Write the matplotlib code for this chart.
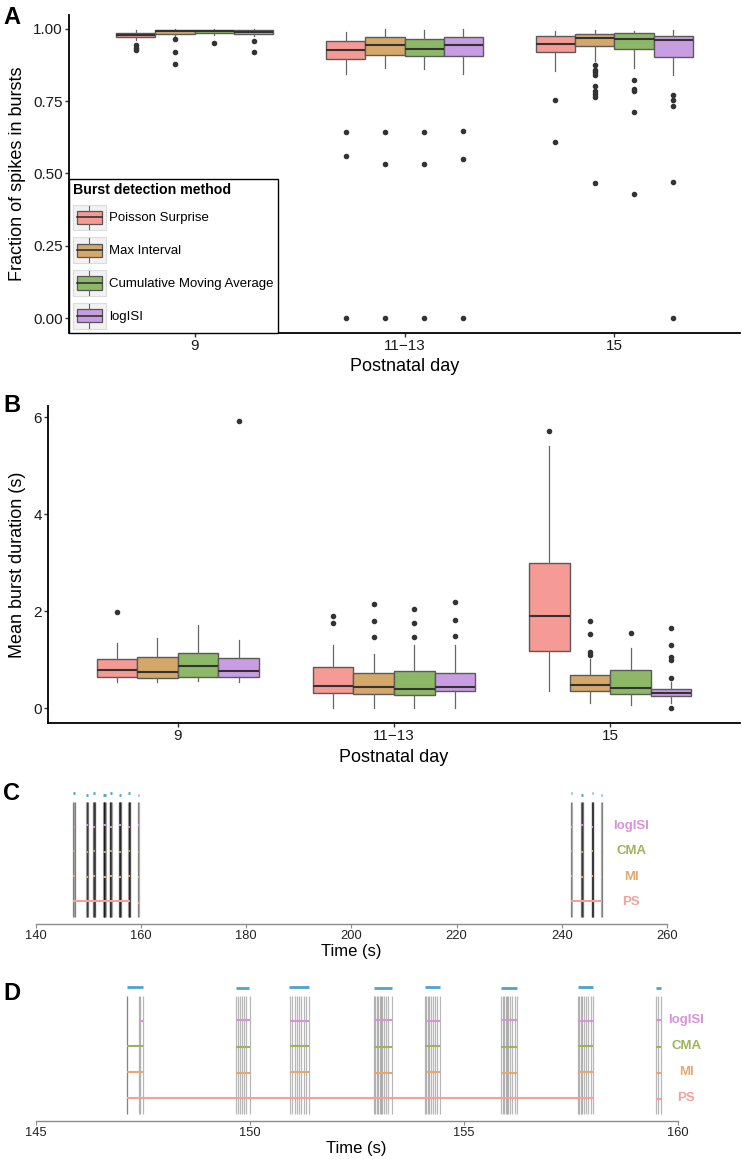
import matplotlib
matplotlib.use("Agg")
import matplotlib.pyplot as plt
from matplotlib.patches import Rectangle, Patch
from matplotlib.lines import Line2D
from matplotlib.legend_handler import HandlerBase

plt.rcParams['font.family'] = ['Liberation Sans', 'DejaVu Sans']

# ---------------- data ----------------
methods = ['Poisson Surprise', 'Max Interval', 'Cumulative Moving Average', 'logISI']
short_names = ['PS', 'MI', 'CMA', 'logISI']
days = ['9', '11\u221213', '15']
box_colors = ['#F59A94', '#D4A86B', '#8DB867', '#C99DE2']
text_colors = ['#F4A09C', '#E6A870', '#9DB35C', '#D892DA']
ref_color = '#4DA3CC'

# panel A : fraction of spikes in bursts  [day][method]
frac_q1 = [[.971, .984, .985, .984], [.896, .910, .905, .905], [.919, .941, .932, .902]]
frac_med = [[.979, .992, .993, .991], [.928, .946, .931, .946], [.948, .969, .965, .962]]
frac_q3 = [[.986, .997, .998, .997], [.960, .973, .964, .973], [.977, .984, .987, .977]]
frac_lo = [[.962, .975, .978, .975], [.844, .864, .862, .843], [.856, .888, .865, .839]]
frac_hi = [[.998, 1.0, 1.0, 1.0], [.990, 1.0, .995, 1.0], [.992, .998, .994, .995]]
frac_out = [
    [[.946, .934, .928], [.965, .919, .879], [.953], [.958, .919]],
    [[.645, .559, 0.0], [.645, .534, 0.0], [.645, .534, 0.0], [.646, .549, 0.0]],
    [[.755, .608], [.877, .857, .851, .841, .804, .784, .776, .765, .467],
     [.824, .794, .787, .713, .429], [.772, .753, .734, .472, 0.0]],
]

# panel B : mean burst duration (s)  [day][method]
dur_q1 = [[.65, .62, .65, .65], [.31, .30, .28, .35], [1.18, .35, .29, .25]]
dur_med = [[.79, .76, .87, .78], [.47, .45, .40, .45], [1.91, .48, .43, .31]]
dur_q3 = [[1.01, 1.06, 1.15, 1.04], [.85, .73, .77, .73], [3.0, .68, .79, .40]]
dur_lo = [[.55, .55, .57, .55], [0.0, 0.0, 0.0, 0.0], [.36, .12, .08, .12]]
dur_hi = [[1.35, 1.46, 1.72, 1.40], [1.30, 1.13, 1.30, 1.30], [5.40, 1.02, 1.25, .55]]
dur_out = [
    [[1.98], [], [], [5.93]],
    [[1.91, 1.76], [2.16, 1.81, 1.47], [2.05, 1.77, 1.48], [2.20, 1.83, 1.50]],
    [[5.72], [1.80, 1.53, 1.16, 1.11], [1.55], [1.65, 1.31, 1.05, 1.00, .62, 0.0]],
]

# panels C / D : spike train and detected bursts (s)
spikes = [147.13, 147.131, 147.41, 147.45, 147.50,
          149.69, 149.73, 149.78, 149.82, 149.86, 149.92, 150.00,
          150.94, 150.99, 151.05, 151.10, 151.16, 151.20, 151.26, 151.31, 151.38,
          152.90, 152.94, 152.97, 153.00, 153.04, 153.07, 153.10, 153.14, 153.18, 153.23, 153.32,
          154.10, 154.13, 154.16, 154.20, 154.24, 154.29, 154.33, 154.38, 154.45,
          155.88, 155.91, 155.94, 155.98, 156.01, 156.04, 156.09, 156.14, 156.20, 156.25,
          157.67, 157.70, 157.73, 157.77, 157.81, 157.86, 157.91, 157.97, 158.03,
          159.50, 159.55, 159.60,
          241.80, 241.85, 241.90,
          243.70, 243.74, 243.78, 243.82, 243.86, 243.90, 243.95, 244.00,
          245.70, 245.74, 245.78, 245.82, 245.86, 245.90, 245.95, 246.00,
          247.55, 247.60, 247.65]

ref_start = [147.13, 149.68, 150.93, 152.90, 154.09, 155.87, 157.66, 159.50, 241.78, 243.68, 245.68, 247.53]
ref_end = [147.52, 149.99, 151.38, 153.32, 154.45, 156.25, 158.03, 159.60, 241.92, 244.02, 246.02, 247.67]
ps_start = [147.13, 159.50, 241.80]
ps_end = [158.03, 159.60, 247.65]
mi_start = [147.13, 149.69, 150.94, 152.90, 154.10, 155.88, 157.67, 159.50, 241.80, 243.70, 245.70, 247.55]
mi_end = [147.50, 150.00, 151.38, 153.32, 154.45, 156.25, 158.03, 159.60, 241.90, 244.00, 246.00, 247.65]
cma_start = [147.13, 149.69, 150.94, 152.90, 154.10, 155.88, 157.67, 159.50, 241.80, 243.70, 245.70, 247.55]
cma_end = [147.50, 150.00, 151.38, 153.32, 154.45, 156.25, 158.03, 159.60, 241.90, 244.00, 246.00, 247.65]
log_start = [147.13, 147.41, 149.69, 150.94, 152.90, 154.10, 155.88, 157.67, 159.50, 241.80, 243.70, 245.70, 247.55]
log_end = [147.14, 147.50, 150.00, 151.38, 153.32, 154.45, 156.25, 158.03, 159.60, 241.90, 244.00, 246.00, 247.65]

W, H = 742, 1159
fig = plt.figure(figsize=(W / 100, H / 100), dpi=100)


def px_rect(left, top, right, bottom):
    return [left / W, 1 - bottom / H, (right - left) / W, (bottom - top) / H]


class BoxKey(HandlerBase):
    def create_artists(self, legend, orig_handle, xdescent, ydescent, width, height, fontsize, trans):
        x0, y0 = -xdescent, -ydescent
        bg = Rectangle((x0, y0), width, height, facecolor='#f2f2f2', edgecolor='#dcdcdc', lw=0.8, transform=trans)
        box = Rectangle((x0 + 0.12 * width, y0 + 0.24 * height), 0.76 * width, 0.52 * height,
                        facecolor=orig_handle.get_facecolor(), edgecolor='#555555', lw=0.9, transform=trans)
        med = Line2D([x0 + 0.12 * width, x0 + 0.88 * width], [y0 + 0.5 * height] * 2, color='#333333', lw=1.2, transform=trans)
        w1 = Line2D([x0 + width / 2] * 2, [y0 + 0.76 * height, y0 + 0.96 * height], color='#666666', lw=0.8, transform=trans)
        w2 = Line2D([x0 + width / 2] * 2, [y0 + 0.04 * height, y0 + 0.24 * height], color='#666666', lw=0.8, transform=trans)
        return [bg, box, med, w1, w2]


def box_panel(ax, q1, med, q3, lo, hi, out):
    bw = 0.75 / 4
    for d in range(3):
        for m in range(4):
            st = dict(q1=q1[d][m], med=med[d][m], q3=q3[d][m], whislo=lo[d][m], whishi=hi[d][m], fliers=out[d][m])
            pos = d + 1 + (m - 1.5) * bw
            ax.bxp([st], positions=[pos], widths=bw, patch_artist=True, showcaps=False,
                   boxprops=dict(facecolor=box_colors[m], edgecolor='#5a5a5a', lw=1.0),
                   medianprops=dict(color='#333333', lw=1.5),
                   whiskerprops=dict(color='#666666', lw=0.9),
                   flierprops=dict(marker='o', markersize=3, markerfacecolor='#333333', markeredgecolor='#333333'))
    ax.set_xlim(0.4, 3.6)
    ax.set_xticks([1, 2, 3])
    ax.set_xticklabels(days)
    for s in ['top', 'right']:
        ax.spines[s].set_visible(False)
    for s in ['left', 'bottom']:
        ax.spines[s].set_linewidth(1.3)
    ax.tick_params(labelsize=11, length=3, width=1, pad=1.5, color='#333333', labelcolor='#1a1a1a')
    ax.set_xlabel('Postnatal day', fontsize=13, labelpad=4)


# ---------------- panel A ----------------
axA = fig.add_axes(px_rect(69, 14.5, 740, 332.5))
box_panel(axA, frac_q1, frac_med, frac_q3, frac_lo, frac_hi, frac_out)
axA.set_ylim(-0.05, 1.05)
axA.set_yticks([0, 0.25, 0.5, 0.75, 1.0])
axA.set_yticklabels(['0.00', '0.25', '0.50', '0.75', '1.00'])
axA.set_ylabel('Fraction of spikes in bursts', fontsize=13)
axA.yaxis.set_label_coords(-0.064, 0.5)
handles = [Patch(facecolor=c) for c in box_colors]
leg = axA.legend(handles, methods, handler_map={Patch: BoxKey()}, loc='lower left', bbox_to_anchor=(0, 0),
                 title='Burst detection method', title_fontproperties={'weight': 'bold', 'size': 10.2},
                 fontsize=9.5, handlelength=2.5, handleheight=2.6, labelspacing=0.55, handletextpad=0.25,
                 borderpad=0.3, borderaxespad=0, fancybox=False, framealpha=1, alignment='left')
leg.get_frame().set_edgecolor('black')
leg.get_frame().set_linewidth(1.0)

# ---------------- panel B ----------------
axB = fig.add_axes(px_rect(48, 406, 740, 723))
box_panel(axB, dur_q1, dur_med, dur_q3, dur_lo, dur_hi, dur_out)
axB.set_ylim(-0.3, 6.23)
axB.set_yticks([0, 2, 4, 6])
axB.set_ylabel('Mean burst duration (s)', fontsize=13)
axB.yaxis.set_label_coords(-0.032, 0.5)


# ---------------- panels C / D ----------------
def raster_panel(ax, xmin, xmax, ticks, label_x):
    ax.vlines(spikes, 0.4, 4.95, color='black', alpha=0.28, lw=0.9)
    rows = [(ps_start, ps_end, 1), (mi_start, mi_end, 2), (cma_start, cma_end, 3), (log_start, log_end, 4)]
    for k, (st, en, lev) in enumerate(rows):
        for i in range(len(st)):
            off = 0.03 if i % 2 == 0 else -0.03
            ax.hlines(lev + off, st[i], en[i], color=text_colors[k], lw=1.5)
        ax.text(label_x, lev, short_names[k], color=text_colors[k], fontsize=9.5, fontweight='bold',
                ha='center', va='center', clip_on=False)
    for i in range(len(ref_start)):
        off = 0.03 if i % 2 == 0 else -0.03
        ax.hlines(5.27 + off, ref_start[i], ref_end[i], color=ref_color, lw=2.0)
    ax.set_xlim(xmin, xmax)
    ax.set_ylim(0.13, 5.45)
    ax.set_xticks(ticks)
    ax.set_yticks([])
    for s in ['top', 'right', 'left']:
        ax.spines[s].set_visible(False)
    ax.spines['bottom'].set_color('#8c8c8c')
    ax.spines['bottom'].set_linewidth(1.0)
    ax.tick_params(axis='x', labelsize=9.3, length=3, pad=1.5, color='#8c8c8c', labelcolor='#222222')
    ax.set_xlabel('Time (s)', fontsize=12, labelpad=1)


axC = fig.add_axes(px_rect(35.5, 789.4, 667, 924))
raster_panel(axC, 140, 260, [140, 160, 180, 200, 220, 240, 260], 253.2)

axD = fig.add_axes(px_rect(35.5, 982.7, 677.7, 1121))
raster_panel(axD, 145, 160, [145, 150, 155, 160], 160.2)

for letter, ypix in [('A', 17), ('B', 405), ('C', 793), ('D', 994)]:
    fig.text(3 / W, 1 - ypix / H, letter, fontsize=17, fontweight='bold', va='center', ha='left')

fig.savefig('out.png', dpi=100)
